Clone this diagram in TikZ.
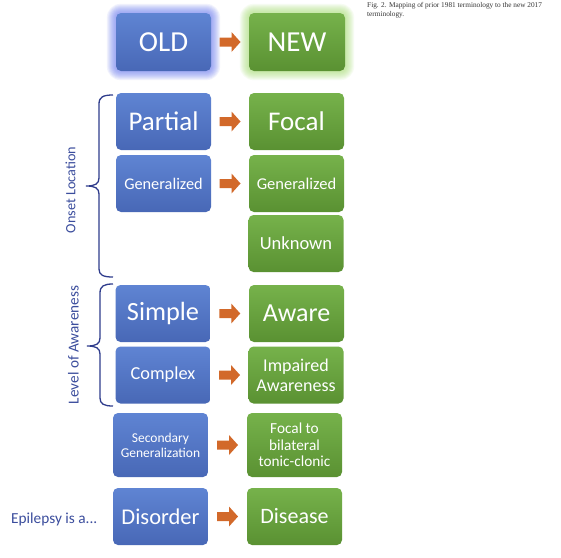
\documentclass[tikz,border=0pt]{standalone}
\usepackage{fontspec}
\setmainfont{Carlito}
\newfontfamily\capfont{Liberation Serif}
\usetikzlibrary{calc,backgrounds}
\definecolor{bluetop}{HTML}{5F84D3}
\definecolor{bluebot}{HTML}{4868B6}
\definecolor{greentop}{HTML}{76B24B}
\definecolor{greenbot}{HTML}{5A9132}
\definecolor{arrowc}{HTML}{D2692A}
\definecolor{labelc}{HTML}{3B4D9D}
\definecolor{bracec}{HTML}{2F3C8C}
\definecolor{glowblue}{HTML}{6677F0}
\definecolor{glowgreen}{HTML}{A6DE72}
\newcommand\fs[2]{\fontsize{#1}{#2}\selectfont}
\newcommand\blockarrow[2]{%
  \path ($(#1.east)!0.5!(#2.west)$) coordinate (m#1);
  \fill[arrowc] ($(m#1)+(-10.5pt,-4.5pt)$) -- ($(m#1)+(1.5pt,-4.5pt)$) -- ($(m#1)+(1.5pt,-10pt)$)
    -- ($(m#1)+(10.5pt,0pt)$) -- ($(m#1)+(1.5pt,10pt)$) -- ($(m#1)+(1.5pt,4.5pt)$)
    -- ($(m#1)+(-10.5pt,4.5pt)$) -- cycle;}
\newcommand\glow[2]{%
  \begin{scope}[on background layer]
  \foreach \i in {1,...,9}{
    \fill[#2, opacity=0.09, rounded corners=5pt+\i pt]
      ([shift={(-\i pt,-\i pt)}]#1.south west) rectangle ([shift={(\i pt,\i pt)}]#1.north east);}
  \end{scope}}
\tikzset{
  box/.style={rounded corners=5pt, minimum width=95pt, minimum height=57pt,
    text=white, align=center, inner sep=2pt},
  oldbox/.style={box, top color=bluetop, bottom color=bluebot},
  newbox/.style={box, top color=greentop, bottom color=greenbot},
  bracket/.style={draw=bracec, line width=1.3pt},
  sidelabel/.style={text=labelc, rotate=90, inner sep=0pt},
}
\begin{document}
\begin{tikzpicture}[x=1pt,y=-1pt]
\useasboundingbox (0,0) rectangle (561,557);
\begin{scope}[on background layer]
\fill[white] (0,0) rectangle (561,557);
\end{scope}

\node[oldbox, minimum height=58pt, font=\fs{29}{32}] (old) at (163.5,42) {OLD};
\node[newbox, minimum height=58pt, minimum width=96pt, font=\fs{29}{32}] (new) at (297,42) {NEW};
\glow{old}{glowblue}
\glow{new}{glowgreen}

\node[oldbox, font=\fs{27}{30}] (partial) at (163.5,121.5) {Partial};
\node[newbox, font=\fs{27}{30}] (focal) at (296.5,121.5) {Focal};
\node[oldbox, font=\fs{16.3}{19}] (genold) at (163.5,183.5) {Generalized};
\node[newbox, font=\fs{16.5}{19}] (gennew) at (296.5,183.5) {Generalized};
\node[newbox, font=\fs{18.5}{21}] (unknown) at (296,243.5) {Unknown};

\node[oldbox, font=\fs{26.3}{29}] (simple) at (163,313.5) {Simple};
\node[newbox, font=\fs{26}{29}] (aware) at (296.5,313.5) {Aware};
\node[oldbox, font=\fs{18.3}{21}] (complex) at (163,375) {Complex};
\node[newbox, font=\fs{18}{20}] (impaired) at (296,375) {Impaired\\Awareness};

\node[oldbox, minimum height=64pt, font=\fs{13.5}{15}] (secondary) at (160.5,445) {Secondary\\Generalization};
\node[newbox, minimum height=64pt, font=\fs{15.3}{16.5}] (bilateral) at (294.5,445) {Focal to\\bilateral\\tonic-clonic};
\node[oldbox, font=\fs{22.5}{25}] (disorder) at (160.5,516.5) {Disorder};
\node[newbox, font=\fs{22}{25}] (disease) at (294.5,516.5) {Disease};

\blockarrow{old}{new}
\blockarrow{partial}{focal}
\blockarrow{genold}{gennew}
\blockarrow{simple}{aware}
\blockarrow{complex}{impaired}
\blockarrow{secondary}{bilateral}
\blockarrow{disorder}{disease}

\draw[bracket] (113,95) .. controls (103,95) and (99,97) .. (99,104) -- (99,178)
  .. controls (99,184) and (95,186) .. (86,186) .. controls (95,186) and (99,188) .. (99,194)
  -- (99,269) .. controls (99,275) and (103,277) .. (113,277);
\draw[bracket] (113,284) .. controls (104,284) and (100,286) .. (100,293) -- (100,338)
  .. controls (100,344) and (96,346) .. (87,346) .. controls (96,346) and (100,348) .. (100,354)
  -- (100,398) .. controls (100,404) and (104,406) .. (113,406);

\node[sidelabel, font=\fs{14.2}{16}] (onset) at (70.5,190) {Onset Location};
\node[sidelabel, font=\fs{15.2}{17}] (level) at (73.5,345) {Level of Awareness};
\node[text=labelc, anchor=base west, inner sep=0pt, font=\fs{15.3}{17}] (epilepsy) at (11,523) {Epilepsy is a...};

\node[anchor=north west, align=left, inner sep=0pt, text=black!80, font=\capfont\fs{7.3}{9}] (caption) at (367,2)
  {Fig. 2. Mapping of prior 1981 terminology to the new 2017\\terminology.};
\end{tikzpicture}
\end{document}
